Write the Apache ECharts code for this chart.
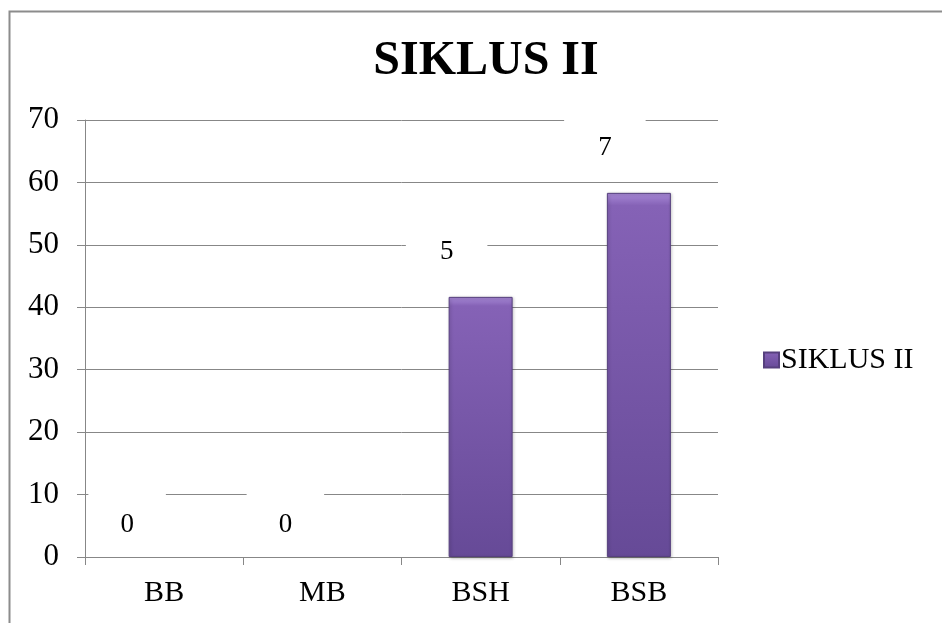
<!DOCTYPE html>
<html>
<head>
<meta charset="utf-8">
<script src="https://cdn.jsdelivr.net/npm/echarts@6/dist/echarts.min.js"></script>
<style>
  html, body { margin: 0; padding: 0; background: #fff; }
  #chart { width: 942px; height: 623px; }
</style>
</head>
<body>
<div id="chart"></div>
<script>
const categories = ['BB', 'MB', 'BSH', 'BSB'];
const percentValues = [0, 0, 41.67, 58.33];
const labelCounts = [0, 0, 5, 7];
const seriesName = 'SIKLUS II';
const chartTitle = 'SIKLUS II';

const chart = echarts.init(document.getElementById('chart'));
const serif = '"Liberation Serif", "Times New Roman", serif';
const gridColor = '#878787';

const barColor = new echarts.graphic.LinearGradient(0, 0, 0, 1, [
  { offset: 0, color: '#a98ad8' },
  { offset: 0.035, color: '#8562b6' },
  { offset: 1, color: '#664a97' }
]);

const seriesData = percentValues.map((v, i) => {
  const zero = v === 0;
  return {
    value: v,
    itemStyle: zero ? { color: 'rgba(0,0,0,0)', borderWidth: 0, shadowColor: 'rgba(0,0,0,0)' } : {},
    label: {
      formatter: String(labelCounts[i]),
      offset: zero ? [-37, -8] : [-34, -6],
      padding: zero ? [22, 32, 6, 32] : [16, 34, 20, 34]
    }
  };
});

const option = {
  backgroundColor: '#ffffff',
  animation: false,
  title: {
    text: chartTitle,
    left: 481,
    textAlign: 'center',
    top: 33,
    textStyle: { fontFamily: serif, fontSize: 48, fontWeight: 'bold', color: '#000' }
  },
  legend: {
    data: [seriesName],
    left: 758,
    top: 340,
    icon: 'rect',
    itemWidth: 15,
    itemHeight: 15,
    itemGap: 6,
    textStyle: { fontFamily: serif, fontSize: 30, color: '#000', padding: [0, 0, 0, -3] }
  },
  grid: { left: 85, right: 224, top: 120, bottom: 66, containLabel: false },
  xAxis: {
    type: 'category',
    data: categories,
    axisLine: { lineStyle: { color: gridColor, width: 1 } },
    axisTick: { show: true, length: 8, lineStyle: { color: gridColor } },
    axisLabel: { fontFamily: serif, fontSize: 30, color: '#000', margin: 21 },
    splitLine: { show: false }
  },
  yAxis: {
    type: 'value',
    min: 0,
    max: 70,
    interval: 10,
    axisLine: { show: true, lineStyle: { color: gridColor, width: 1 } },
    axisTick: { show: true, length: 8, lineStyle: { color: gridColor } },
    axisLabel: { fontFamily: serif, fontSize: 31, color: '#000', margin: 26 },
    splitLine: { show: true, lineStyle: { color: gridColor, width: 1 } }
  },
  series: [{
    name: seriesName,
    type: 'bar',
    barWidth: 64,
    data: seriesData,
    itemStyle: {
      color: barColor,
      borderColor: '#56407e',
      borderWidth: 1,
      shadowColor: 'rgba(0,0,0,0.25)',
      shadowBlur: 3,
      shadowOffsetX: 1,
      shadowOffsetY: 1
    },
    label: {
      show: true,
      position: 'top',
      fontFamily: serif,
      fontSize: 27,
      lineHeight: 27,
      color: '#000',
      backgroundColor: '#ffffff'
    }
  }],
  graphic: [{
    type: 'rect',
    left: 7,
    top: 9,
    shape: { x: 0, y: 0, width: 1000, height: 1000 },
    style: { fill: 'none', stroke: '#8c8c8c', lineWidth: 2 },
    silent: true,
    z: 100
  }]
};

chart.setOption(option);
</script>
</body>
</html>
